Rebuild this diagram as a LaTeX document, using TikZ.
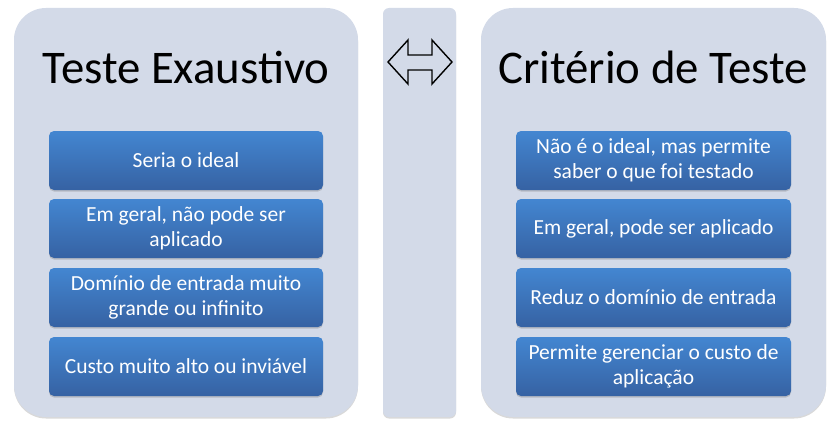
\documentclass[tikz,border=0pt]{standalone}
\usepackage{fontspec}
\setmainfont{Carlito}
\usetikzlibrary{shadows}
\usepackage{xcolor}
\definecolor{panelblue}{HTML}{D3DAE8}
\definecolor{boxtop}{HTML}{4386D1}
\definecolor{boxbottom}{HTML}{3662A3}

\begin{document}
\begin{tikzpicture}[
    x=1pt, y=-1pt,
    panel/.style={
        fill=panelblue,
        inner sep=0pt,
        minimum height=409pt,
        drop shadow={opacity=0.3, shadow xshift=0pt, shadow yshift=-1.5pt},
    },
    item/.style={
        top color=boxtop, bottom color=boxbottom,
        rounded corners=5pt,
        minimum height=59pt,
        inner sep=0pt,
        text=white,
        font=\fontsize{21.5}{24.5}\selectfont,
        align=center,
        drop shadow={opacity=0.35, shadow xshift=0pt, shadow yshift=-1.5pt},
    },
    title/.style={
        anchor=base,
        inner sep=0pt,
        font=\fontsize{46.8}{52}\selectfont,
    },
]
\useasboundingbox (0,0) rectangle (837,428);

% panels
\node[panel, rounded corners=32pt, minimum width=344pt] (left) at (186, 212.5) {};
\node[panel, rounded corners=6pt, minimum width=73pt] (mid) at (419.5, 212.5) {};
\node[panel, rounded corners=32pt, minimum width=345pt] (right) at (653.5, 212.5) {};

% titles
\node[title] (titleL) at (186, 83) {Teste Exaustivo};
\node[title] (titleR) at (653, 83) {Critério de Teste};

% double arrow
\draw[line width=1.4pt, line join=miter] (388,62) -- (408,40) -- (408,55) -- (432,55)
    -- (432,40) -- (452,62) -- (432,84) -- (432,70) -- (408,70) -- (408,84) -- cycle;

% left items
\node[item, minimum width=274pt] (L1) at (186, 160.5) {Seria o ideal};
\node[item, minimum width=274pt] (L2) at (186, 228.5) {Em geral, não pode ser\\aplicado};
\node[item, minimum width=274pt] (L3) at (186, 297.5) {Domínio de entrada muito\\grande ou infinito};
\node[item, minimum width=274pt] (L4) at (186, 366.5) {Custo muito alto ou inviável};

% right items
\node[item, minimum width=275pt] (R1) at (653.5, 160.5) {Não é o ideal, mas permite\\saber o que foi testado};
\node[item, minimum width=275pt] (R2) at (653.5, 228.5) {Em geral, pode ser aplicado};
\node[item, minimum width=275pt] (R3) at (653.5, 297.5) {Reduz o domínio de entrada};
\node[item, minimum width=275pt] (R4) at (653.5, 366.5) {Permite gerenciar o custo de\\aplicação};

\end{tikzpicture}
\end{document}
